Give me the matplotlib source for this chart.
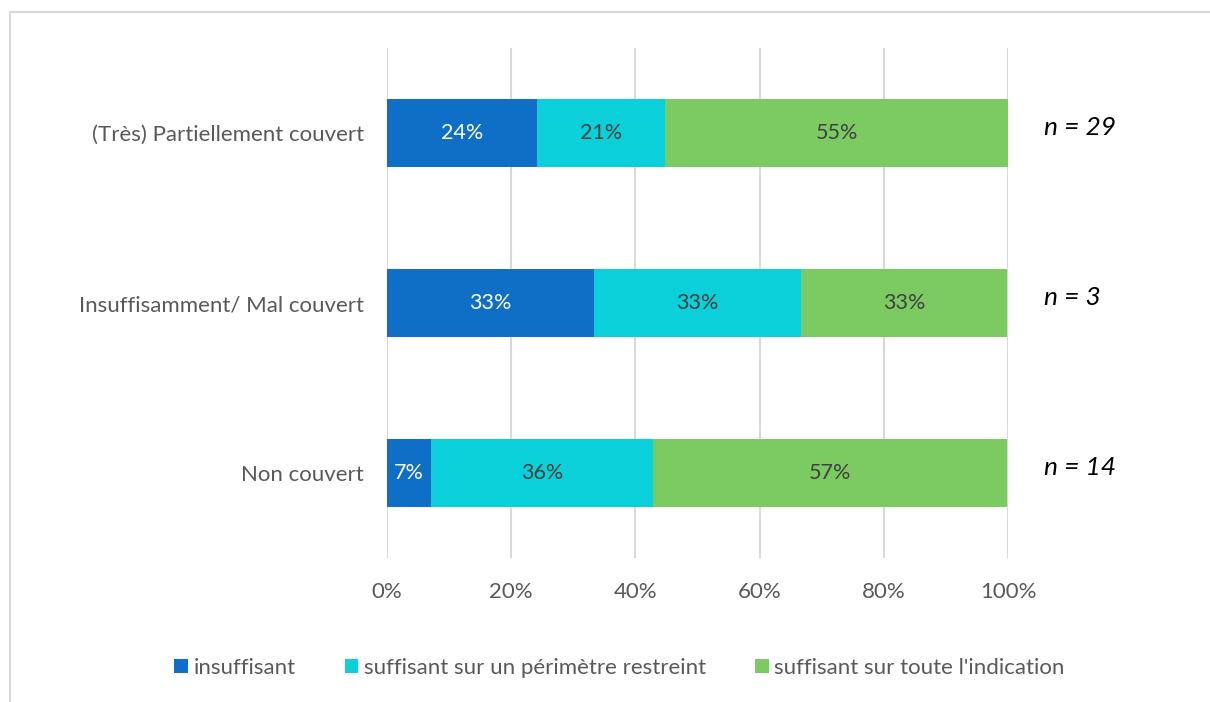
import matplotlib.pyplot as plt
from matplotlib.lines import Line2D

# Data
categories = ["(Très) Partiellement couvert", "Insuffisamment/ Mal couvert", "Non couvert"]
series_names = ["insuffisant", "suffisant sur un périmètre restreint", "suffisant sur toute l'indication"]
insuffisant = [24.1, 33.3, 7.1]
perimetre_restreint = [20.7, 33.3, 35.7]
toute_indication = [55.2, 33.3, 57.1]
n_values = [29, 3, 14]
x_ticks = [0, 20, 40, 60, 80, 100]

colors = ["#0F6FC6", "#0BD0D9", "#7CCA62"]
label_colors = ["white", "#404040", "#404040"]
grey = "#595959"

plt.rcParams['font.family'] = ['Lato', 'DejaVu Sans']

fig = plt.figure(figsize=(12.1, 7.02), dpi=100)
ax = fig.add_axes([387 / 1210, 1 - 558 / 702, (1008 - 387) / 1210, (558 - 48) / 702])

# chart frame (top and left edges visible in the reference)
fig.add_artist(Line2D([10 / 1210, 10 / 1210], [0, 1 - 12 / 702], transform=fig.transFigure,
                      color="#D9D9D9", lw=1.5))
fig.add_artist(Line2D([10 / 1210, 1], [1 - 12 / 702, 1 - 12 / 702], transform=fig.transFigure,
                      color="#D9D9D9", lw=1.5))

ypos = list(range(len(categories)))
left = [0.0] * len(categories)
for name, vals, col, lcol in zip(series_names,
                                 [insuffisant, perimetre_restreint, toute_indication],
                                 colors, label_colors):
    bars = ax.barh(ypos, vals, left=left, height=0.4, color=col, label=name, zorder=3)
    for b, v in zip(bars, vals):
        ax.text(b.get_x() + b.get_width() / 2, b.get_y() + b.get_height() / 2,
                f"{round(v):d}%", ha="center", va="center", color=lcol, fontsize=15.5, zorder=4)
    left = [l + v for l, v in zip(left, vals)]

for y, n in zip(ypos, n_values):
    ax.text(1.058, y - 0.035, f"n = {n}", transform=ax.get_yaxis_transform(), ha="left",
            va="center", fontsize=19, style="italic", color="black")

ax.set_xlim(0, 100)
ax.set_ylim(len(categories) - 0.5, -0.5)
ax.set_yticks(ypos)
ax.set_yticklabels(categories, fontsize=16, color=grey)
ax.set_xticks(x_ticks)
ax.set_xticklabels([f"{t}%" for t in x_ticks], fontsize=16, color=grey)
ax.tick_params(axis="both", length=0)
ax.tick_params(axis="x", pad=17)
ax.tick_params(axis="y", pad=16.5)
ax.grid(axis="x", color="#D9D9D9", lw=1.5, zorder=0)
for s in ax.spines.values():
    s.set_visible(False)

fig.legend(loc="center", bbox_to_anchor=(0.512, 1 - 668 / 702), ncol=3, frameon=False,
           fontsize=16, labelcolor=grey, handlelength=0.62, handleheight=0.62,
           handletextpad=0.25, columnspacing=2.2)

fig.savefig("out.png", dpi=100)
